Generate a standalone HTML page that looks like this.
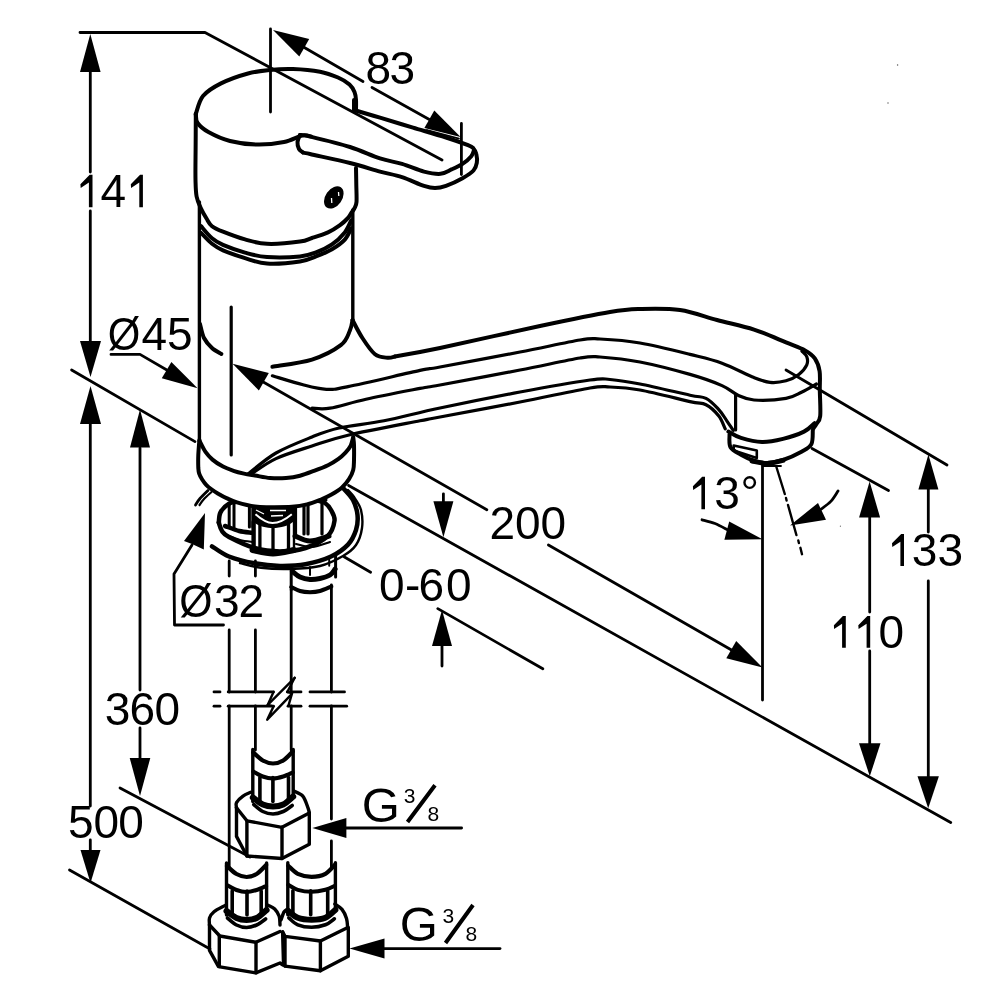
<!DOCTYPE html>
<html><head><meta charset="utf-8"><style>
html,body{margin:0;padding:0;background:#fff;}
svg{display:block;will-change:transform;}
text{font-family:"Liberation Sans",sans-serif;fill:#000;}
</style></head><body>
<svg width="1000" height="1000" viewBox="0 0 1000 1000">
<rect width="1000" height="1000" fill="#fff"/>
<g fill="none" stroke="#000" stroke-linecap="round" stroke-linejoin="round">
<path d="M80.0,32.5 L205.0,32.5 L442.0,160.0" stroke-width="2.8"/>
<path d="M90.3,72.0 L90.3,172.0" stroke-width="2.8"/>
<path d="M90.3,211.0 L90.3,341.0" stroke-width="2.8"/>
<path d="M71.6,370.0 L195.0,441.6" stroke-width="2.8"/>
<path d="M90.3,424.0 L90.3,806.0" stroke-width="2.8"/>
<path d="M90.3,840.0 L90.3,851.0" stroke-width="2.8"/>
<path d="M69.5,870.0 L210.0,949.0" stroke-width="2.8"/>
<path d="M140.0,448.0 L140.0,690.0" stroke-width="2.8"/>
<path d="M140.0,728.0 L140.0,758.0" stroke-width="2.8"/>
<path d="M120.0,788.0 L250.0,857.0" stroke-width="2.8"/>
<path d="M111.0,354.4 L140.0,354.4 L172.0,373.0" stroke-width="2.8"/>
<path d="M258.0,379.0 L486.8,509.7" stroke-width="2.8"/>
<path d="M548.4,545.0 L735.0,652.0" stroke-width="2.8"/>
<path d="M231.2,307.0 L231.2,455.0" stroke-width="3.2"/>
<path d="M270.5,29.0 L270.5,112.0" stroke-width="2.8"/>
<path d="M300.0,45.0 L363.0,81.5" stroke-width="2.8"/>
<path d="M372.0,87.5 L432.0,121.0" stroke-width="2.8"/>
<path d="M461.4,123.5 L461.4,174.5" stroke-width="2.8"/>
<path d="M192.0,545.0 L174.0,574.0 L174.5,625.0 L223.5,625.0" stroke-width="2.8"/>
<path d="M443.4,493.8 L443.4,502.0" stroke-width="2.8"/>
<path d="M442.0,646.0 L442.0,666.0" stroke-width="2.8"/>
<path d="M348.6,485.5 L950.7,822.5" stroke-width="2.8"/>
<path d="M437.8,608.6 L542.8,668.8" stroke-width="2.8"/>
<path d="M344.0,556.8 L370.6,572.2" stroke-width="2.8"/>
<path d="M762.5,463.5 L762.5,700.0" stroke-width="2.8"/>
<path d="M776.4,467.0 L784.8,494.0" stroke-width="2.4"/>
<path d="M786.0,498.0 L786.6,500.5" stroke-width="2.4"/>
<path d="M788.0,505.0 L796.4,535.0" stroke-width="2.4"/>
<path d="M798.3,540.5 L798.9,543.0" stroke-width="2.4"/>
<path d="M800.4,547.8 L802.0,554.2" stroke-width="2.4"/>
<path d="M702.0,519.8 C704.2,520.4 710.7,521.8 715.0,523.5 C719.3,525.2 725.8,528.9 728.0,530.0" stroke-width="2.8"/>
<path d="M838.0,491.0 C836.8,492.7 833.8,498.2 830.8,501.4 C827.8,504.6 821.8,508.6 820.0,510.0" stroke-width="2.8"/>
<path d="M812.0,448.5 L888.5,490.5" stroke-width="2.8"/>
<path d="M869.7,517.0 L869.7,612.0" stroke-width="2.8"/>
<path d="M869.7,651.0 L869.7,744.0" stroke-width="2.8"/>
<path d="M786.0,370.0 L947.0,465.0" stroke-width="2.8"/>
<path d="M928.3,489.0 L928.3,532.0" stroke-width="2.8"/>
<path d="M928.3,581.0 L928.3,777.0" stroke-width="2.8"/>
<path d="M346.0,828.0 L461.6,828.0" stroke-width="2.8"/>
<path d="M384.0,948.6 L500.0,948.6" stroke-width="2.8"/>
<path d="M214.0,691.9 L220.0,691.9" stroke-width="2.8"/>
<path d="M228.2,691.9 L273.5,691.9" stroke-width="2.8"/>
<path d="M287.3,691.9 L301.0,691.9" stroke-width="2.8"/>
<path d="M310.0,691.9 L344.5,691.9" stroke-width="2.8"/>
<path d="M214.0,706.2 L220.0,706.2" stroke-width="2.8"/>
<path d="M228.2,706.2 L273.5,706.2" stroke-width="2.8"/>
<path d="M288.0,706.2 L301.0,706.2" stroke-width="2.8"/>
<path d="M310.0,706.2 L346.7,706.2" stroke-width="2.8"/>
<path d="M273.5,691.9 L267.7,704.9 L273.5,706.4 L267.2,719.7 L291.0,694.8" stroke-width="2.4"/>
<path d="M267.7,704.9 L294.7,677.8" stroke-width="2.4"/>
<path d="M294.7,677.8 L287.3,692.0 L292.1,693.2 L288.4,705.9" stroke-width="2.4"/>
<path d="M195.8,114.0 C197.0,111.0 198.8,101.1 203.0,96.0 C207.2,90.9 213.5,87.2 221.0,83.4 C228.5,79.7 239.9,75.7 248.0,73.5 C256.1,71.3 262.1,70.8 269.6,70.0 C277.1,69.2 284.6,68.7 293.0,69.0 C301.4,69.3 312.5,70.3 320.0,71.7 C327.5,73.1 333.1,75.4 338.0,77.5 C342.9,79.6 346.8,82.1 349.5,84.5 C352.2,86.9 353.4,89.4 354.5,92.0 C355.6,94.6 355.8,97.0 356.0,100.0 C356.2,103.0 356.0,108.3 356.0,110.0" stroke-width="4.0"/>
<path d="M195.8,114.0 C196.1,115.5 195.5,120.0 197.6,123.0 C199.7,126.0 203.0,129.0 208.4,132.0 C213.8,135.0 221.9,138.9 230.0,141.0 C238.1,143.1 248.0,144.4 257.0,144.6 C266.0,144.8 276.5,143.5 284.0,142.0 C291.5,140.5 297.5,136.5 302.0,135.6 C306.5,134.7 309.5,136.3 311.0,136.5" stroke-width="4.0"/>
<path d="M195.8,114.0 C195.8,120.0 195.7,139.0 195.6,150.0 C195.5,161.0 195.3,172.2 195.5,180.0 C195.7,187.8 195.7,191.7 196.6,196.5 C197.5,201.3 199.3,204.9 201.0,208.6 C202.7,212.3 204.7,215.6 206.5,218.5 C208.3,221.4 209.2,224.0 212.0,226.2 C214.8,228.4 217.5,229.5 223.0,231.7 C228.5,233.9 237.7,237.4 245.0,239.4 C252.3,241.4 257.8,243.4 267.0,243.8 C276.2,244.2 292.5,242.6 300.0,241.6 C307.5,240.6 307.3,239.5 312.0,238.0 C316.7,236.5 323.3,234.5 328.0,232.4 C332.7,230.3 336.7,227.6 340.0,225.2 C343.3,222.8 346.1,220.0 348.0,218.0 C349.9,216.0 350.1,214.8 351.2,213.2 C352.3,211.6 353.5,210.3 354.4,208.4 C355.3,206.5 356.2,205.9 356.5,202.0 C356.8,198.1 356.4,190.7 356.3,185.0 C356.2,179.3 356.1,170.8 356.0,168.0" stroke-width="4.0"/>
<path d="M201.0,226.2 C202.8,228.2 208.3,235.2 212.0,238.3 C215.7,241.4 217.5,242.5 223.0,244.9 C228.5,247.3 237.7,250.6 245.0,252.6 C252.3,254.6 257.8,256.4 267.0,257.0 C276.2,257.6 291.8,257.2 300.0,256.4 C308.2,255.6 310.7,254.4 316.0,252.4 C321.3,250.4 327.2,247.7 332.0,244.4 C336.8,241.1 341.6,236.4 344.8,232.4 C348.0,228.4 350.1,222.4 351.2,220.4" stroke-width="4.0"/>
<path d="M201.0,232.8 C202.8,234.6 208.3,240.9 212.0,243.8 C215.7,246.7 217.5,248.0 223.0,250.4 C228.5,252.8 237.7,255.9 245.0,258.1 C252.3,260.3 257.8,263.0 267.0,263.6 C276.2,264.2 291.8,262.7 300.0,261.5 C308.2,260.3 310.7,258.4 316.0,256.4 C321.3,254.3 327.2,252.0 332.0,249.2 C336.8,246.4 341.6,243.1 344.8,239.6 C348.0,236.1 350.1,230.3 351.2,228.4" stroke-width="4.0"/>
<path d="M354.0,100.0 L354.0,110.0" stroke-width="4.0"/>
<path d="M354.0,110.0 C358.3,111.3 370.2,114.8 380.0,117.7 C389.8,120.6 402.0,124.3 413.0,127.6 C424.0,130.9 436.8,134.6 446.0,137.5 C455.2,140.4 463.4,143.4 468.0,145.2 C472.6,147.0 472.1,147.0 473.5,148.5 C474.9,150.0 475.8,151.6 476.3,154.0 C476.9,156.4 477.3,160.1 476.8,162.8 C476.3,165.6 475.9,167.9 473.5,170.5 C471.1,173.1 467.1,175.6 462.5,178.2 C457.9,180.8 450.6,184.2 446.0,185.9 C441.4,187.6 438.7,188.1 435.0,188.1 C431.3,188.1 429.5,187.7 424.0,185.9 C418.5,184.1 409.3,179.5 402.0,177.1 C394.7,174.7 388.7,173.9 380.0,171.6 C371.3,169.2 361.7,165.9 350.0,163.0 C338.3,160.1 317.8,155.8 310.0,154.0 C302.2,152.2 304.2,152.8 303.0,152.5" stroke-width="4.0"/>
<path d="M300.0,135.0 C301.7,135.2 301.7,134.5 310.0,136.5 C318.3,138.5 338.3,143.3 350.0,147.0 C361.7,150.7 371.3,155.6 380.0,158.4 C388.7,161.2 394.7,161.7 402.0,163.9 C409.3,166.1 417.6,169.9 424.0,171.6 C430.4,173.2 435.9,174.2 440.5,173.8 C445.1,173.4 447.8,171.1 451.5,169.4 C455.2,167.8 459.2,166.1 462.5,163.9 C465.8,161.7 469.4,158.5 471.3,156.2 C473.2,153.9 473.6,151.0 474.0,150.0" stroke-width="4.0"/>
<path d="M300.0,135.0 C299.6,136.2 297.7,139.7 297.5,142.0 C297.3,144.3 298.1,147.2 299.0,149.0 C299.9,150.8 302.3,151.9 303.0,152.5" stroke-width="4.0"/>
<path d="M427,130 L459,138.6" stroke-width="1.8"/>
<path d="M199.4,202 V441" stroke-width="3.4"/>
<path d="M352.8,210 V320" stroke-width="3.4"/>
<path d="M200.0,324.0 C200.7,326.3 202.0,334.0 204.0,338.0 C206.0,342.0 209.1,345.3 212.0,348.0 C214.9,350.7 219.8,353.0 221.4,354.0" stroke-width="4.0"/>
<path d="M272.4,366.8 C279.0,365.6 300.6,363.2 312.0,359.6 C323.4,356.0 334.5,350.0 340.8,345.2 C347.1,340.4 347.9,335.0 349.8,330.8 C351.8,326.6 352.1,321.8 352.5,320.0" stroke-width="4.0"/>
<path d="M352.5,320.0 C354.1,323.0 358.6,332.3 362.4,338.0 C366.1,343.7 370.8,350.9 375.0,354.2 C379.2,357.5 384.3,357.4 387.6,357.8 C390.9,358.2 393.8,356.7 395.0,356.5" stroke-width="4.0"/>
<path d="M395.0,356.5 C402.5,355.1 415.8,353.1 440.0,348.0 C464.2,342.9 511.7,332.0 540.0,326.0 C568.3,320.0 593.3,314.8 610.0,312.0 C626.7,309.2 628.3,309.3 640.0,309.0 C651.7,308.7 667.2,308.2 680.0,310.0 C692.8,311.8 704.7,316.7 717.0,320.0 C729.3,323.3 742.5,325.9 754.0,329.6 C765.5,333.3 777.5,338.9 786.0,342.4 C794.5,345.9 800.2,347.7 805.0,350.4 C809.8,353.1 812.4,354.9 814.8,358.4 C817.2,361.9 818.8,365.9 819.6,371.2 C820.4,376.5 819.7,382.5 819.8,390.0 C819.9,397.5 820.8,410.3 820.2,416.0 C819.6,421.7 817.6,421.9 816.4,424.0 C815.2,426.1 813.7,428.0 813.2,428.8" stroke-width="4.0"/>
<path d="M272.4,375.8 C277.5,377.3 294.0,382.6 303.0,384.8 C312.0,387.1 318.9,389.0 326.4,389.3 C333.9,389.6 332.4,389.8 348.0,386.6 C363.6,383.5 404.7,373.7 420.0,370.4 C435.3,367.1 423.3,370.1 440.0,367.0 C456.7,363.9 496.7,356.5 520.0,352.0 C543.3,347.5 566.7,342.2 580.0,340.0 C593.3,337.8 590.0,338.5 600.0,339.0 C610.0,339.5 625.0,340.4 640.0,343.0 C655.0,345.6 676.3,351.0 690.0,354.4 C703.7,357.8 711.3,359.3 722.0,363.2 C732.7,367.1 746.0,374.4 754.0,377.6 C762.0,380.8 764.7,381.9 770.0,382.4 C775.3,382.9 781.2,382.1 786.0,380.8 C790.8,379.5 795.3,377.1 798.8,374.4 C802.3,371.7 805.5,367.7 806.8,364.8 C808.1,361.9 807.6,359.1 806.8,356.8 C806.0,354.5 802.8,352.1 802.0,351.2" stroke-width="3.2"/>
<path d="M312.0,408.2 C315.0,408.2 321.0,409.7 330.0,408.2 C339.0,406.7 351.0,402.5 366.0,399.2 C381.0,395.9 407.7,390.8 420.0,388.4 C432.3,386.0 423.3,388.1 440.0,385.0 C456.7,381.9 496.7,374.5 520.0,370.0 C543.3,365.5 566.7,360.2 580.0,358.0 C593.3,355.8 590.0,356.3 600.0,357.0 C610.0,357.7 625.0,359.1 640.0,362.0 C655.0,364.9 676.3,370.5 690.0,374.4 C703.7,378.3 714.0,382.1 722.0,385.6 C730.0,389.1 732.7,392.8 738.0,395.2 C743.3,397.6 746.0,399.5 754.0,400.0 C762.0,400.5 778.0,399.7 786.0,398.4 C794.0,397.1 796.9,394.4 802.0,392.0 C807.1,389.6 814.0,385.3 816.4,384.0" stroke-width="3.2"/>
<path d="M248.5,473.6 C253.1,470.2 265.4,459.1 276.0,453.0 C286.6,446.9 301.5,441.2 312.0,437.0 C322.5,432.8 327.0,430.7 339.0,428.0 C351.0,425.3 367.2,424.1 384.0,420.8 C400.8,417.5 417.3,412.8 440.0,408.0 C462.7,403.2 495.0,396.7 520.0,392.0 C545.0,387.3 575.0,382.1 590.0,380.0 C605.0,377.9 601.7,378.8 610.0,379.5 C618.3,380.2 626.7,381.4 640.0,384.0 C653.3,386.6 679.0,392.8 690.0,395.2 C701.0,397.6 701.2,396.0 706.0,398.4 C710.8,400.8 715.3,405.9 718.8,409.6 C722.3,413.3 724.4,417.3 726.8,420.8 C729.2,424.3 732.1,428.8 733.2,430.4" stroke-width="3.2"/>
<path d="M251.0,474.2 C255.2,471.6 265.8,463.3 276.0,458.6 C286.2,453.9 300.0,449.9 312.0,446.0 C324.0,442.1 330.0,439.4 348.0,435.2 C366.0,431.0 404.7,423.8 420.0,420.8 C435.3,417.8 423.3,420.1 440.0,417.0 C456.7,413.9 495.0,406.8 520.0,402.0 C545.0,397.2 575.0,390.5 590.0,388.0 C605.0,385.5 601.7,386.7 610.0,387.0 C618.3,387.3 626.7,387.6 640.0,390.0 C653.3,392.4 679.0,399.1 690.0,401.6 C701.0,404.1 701.2,402.4 706.0,404.8 C710.8,407.2 715.6,412.0 718.8,416.0 C722.0,420.0 724.1,426.7 725.2,428.8" stroke-width="3.2"/>
<path d="M735.6,395 V430" stroke-width="3.2"/>
<path d="M728.4,431.6 C730.5,432.7 735.4,436.2 741.0,437.9 C746.6,439.6 755.0,441.8 762.0,442.0 C769.0,442.2 776.0,440.6 783.0,438.9 C790.0,437.2 798.8,434.2 804.0,431.6 C809.2,429.0 812.8,424.6 814.5,423.2" stroke-width="4.0"/>
<path d="M729.5,434.7 C729.7,436.8 728.6,444.0 730.5,447.3 C732.4,450.6 737.0,452.4 741.0,454.7 C745.0,457.0 750.3,459.6 754.7,461.0 C759.1,462.4 762.6,463.2 767.3,463.0 C772.0,462.8 777.2,461.9 783.0,460.0 C788.8,458.1 797.3,454.1 802.0,451.5 C806.7,448.9 809.6,447.7 811.4,444.2 C813.2,440.7 812.6,432.8 812.8,430.5" stroke-width="4.0"/>
<path d="M733.7,445.5 L756.8,450.5 L756.8,458 L733.7,450.5Z" stroke-width="2.6"/>
<path d="M752.0,461.0 C754.5,461.4 762.1,463.6 767.3,463.5 C772.5,463.4 780.4,460.9 783.0,460.4" stroke-width="5"/>
<path d="M763.0,466.0 L781.0,466.0" stroke-width="1.8"/>
<path d="M195.5,505.0 C196.2,503.9 197.9,500.9 200.0,498.5 C202.1,496.1 206.7,491.8 208.0,490.5" stroke-width="2.8"/>
<path d="M199.5,505.0 C200.2,504.0 202.0,501.2 204.0,499.0 C206.0,496.8 210.2,493.2 211.5,492.0" stroke-width="2.2"/>
<path d="M212.0,546.3 C214.8,548.0 221.9,553.7 229.0,556.5 C236.1,559.3 246.0,561.7 254.5,563.3 C263.0,564.9 271.5,565.8 280.0,565.9 C288.5,566.0 297.0,565.8 305.5,564.2 C314.0,562.6 323.9,559.8 331.0,556.5 C338.1,553.2 343.8,549.0 348.0,544.6 C352.2,540.2 354.4,534.9 356.0,530.0 C357.6,525.1 358.0,520.0 357.5,515.0 C357.0,510.0 355.2,504.3 353.0,500.0 C350.8,495.7 345.5,490.8 344.0,489.0" stroke-width="4.5"/>
<path d="M240.0,563.0 C243.5,563.8 252.7,566.8 261.0,567.8 C269.3,568.8 280.2,569.3 290.0,569.0 C299.8,568.7 311.2,568.2 320.0,566.0 C328.8,563.8 337.0,559.5 343.0,556.0 C349.0,552.5 352.8,549.7 356.0,545.0 C359.2,540.3 361.2,533.8 362.0,528.0 C362.8,522.2 362.3,515.2 361.0,510.0 C359.7,504.8 356.2,500.3 354.0,497.0 C351.8,493.7 349.0,491.2 348.0,490.0" stroke-width="2.4"/>
<path d="M218.8,522.5 C219.1,520.8 218.8,515.4 220.5,512.3 C222.2,509.2 225.9,505.6 229.0,503.8 C232.1,502.0 237.5,501.7 239.2,501.3" stroke-width="4.5"/>
<path d="M218.8,522.5 C219.3,523.9 220.3,528.6 222.0,531.0 C223.7,533.4 223.6,534.2 229.0,537.0 C234.4,539.8 246.0,545.6 254.5,548.0 C263.0,550.4 271.5,551.4 280.0,551.4 C288.5,551.4 297.6,550.6 305.5,548.0 C313.4,545.4 322.9,540.5 327.7,536.0 C332.5,531.5 333.9,525.1 334.5,520.8 C335.1,516.5 332.6,513.0 331.0,510.0 C329.4,507.0 327.3,504.6 325.0,503.0 C322.7,501.4 318.7,500.8 317.4,500.4" stroke-width="4.5"/>
<path d="M229.2,503 V527" stroke-width="3"/>
<path d="M234,503 V527" stroke-width="3"/>
<path d="M249.4,503 V527" stroke-width="3"/>
<path d="M252.8,503 V527" stroke-width="3"/>
<path d="M225.0,526.0 C227.4,526.8 234.7,529.9 239.2,531.0 C243.7,532.1 249.9,532.4 252.0,532.7" stroke-width="4.5"/>
<path d="M226.0,535.0 C228.3,535.8 235.5,538.8 240.0,540.0 C244.5,541.2 250.8,541.7 253.0,542.0" stroke-width="2.2"/>
<path d="M253.6,522 V549" stroke-width="4.4"/>
<path d="M259.9,522 V549" stroke-width="3.3"/>
<path d="M273,522 V549" stroke-width="3.3"/>
<path d="M288.5,522 V549" stroke-width="3.3"/>
<path d="M294,522 V549" stroke-width="2.4"/>
<path d="M252.5,550.0 C255.9,550.6 266.1,553.5 273.0,553.5 C279.9,553.5 290.5,550.6 294.0,550.0" stroke-width="6"/>
<path d="M295.5,503 V534" stroke-width="3.2"/>
<path d="M304,503 V534" stroke-width="3.2"/>
<path d="M308,503 V534" stroke-width="3.2"/>
<path d="M322,503 V534" stroke-width="3.2"/>
<path d="M295.0,536.0 C297.5,536.8 304.3,541.0 310.0,541.0 C315.7,541.0 325.8,536.8 329.0,536.0" stroke-width="5"/>
<path d="M296.0,544.0 C298.7,544.5 306.3,547.3 312.0,547.0 C317.7,546.7 327.0,542.8 330.0,542.0" stroke-width="2.2"/>
<path d="M296.0,505.0 C298.3,504.5 305.0,502.8 310.0,502.0 C315.0,501.2 323.3,500.3 326.0,500.0" stroke-width="3"/>
<path d="M291.2,569.8 V589.8" stroke-width="3"/>
<path d="M335.6,554.6 V577" stroke-width="3"/>
<path d="M291.2,587.0 C292.7,587.7 296.9,590.1 300.0,591.0 C303.1,591.9 306.7,592.2 310.0,592.2 C313.3,592.2 316.4,592.0 320.0,591.0 C323.6,590.0 329.5,587.2 331.4,586.5" stroke-width="4"/>
<path d="M292.5,571.5 C293.8,572.4 297.1,575.7 300.0,577.0 C302.9,578.3 306.7,579.2 310.0,579.5 C313.3,579.8 316.7,579.2 320.0,578.5 C323.3,577.8 327.5,576.6 330.0,575.0 C332.5,573.4 334.3,570.0 335.2,569.0" stroke-width="5"/>
<path d="M310,567 V575" stroke-width="2"/>
<path d="M329.2,558.6 V565.8" stroke-width="2"/>
<path d="M229.2,561 V576 M229.2,630 V692 M229.2,706 V867" stroke-width="2.8"/>
<path d="M255.4,561 V576 M255.4,630 V692 M255.4,706 V750" stroke-width="2.8"/>
<path d="M291.2,589.8 V692 M291.2,706 V750" stroke-width="2.8"/>
<path d="M331.4,585 V692 M331.4,706 V819 M331.4,841 V868" stroke-width="2.8"/>
<path d="M252.8,749.5 V801.5" stroke-width="3.4"/>
<path d="M293.2,749.5 V797.5" stroke-width="3.4"/>
<path d="M253.3,752.5 C254.9,753.8 259.5,758.7 262.8,760.5 C266.1,762.3 269.6,763.5 273.0,763.5 C276.4,763.5 279.9,762.5 283.2,760.5 C286.5,758.5 291.1,753.0 292.7,751.5" stroke-width="4.2"/>
<path d="M253.3,771.5 C254.9,772.3 259.5,775.3 262.8,776.5 C266.1,777.7 269.6,778.5 273.0,778.5 C276.4,778.5 279.9,777.5 283.2,776.5 C286.5,775.5 291.1,773.2 292.7,772.5" stroke-width="4"/>
<path d="M259.9,777.5 V801.5" stroke-width="3.6"/>
<path d="M272.9,777.5 V801.5" stroke-width="3.6"/>
<path d="M288.5,777.5 V801.5" stroke-width="3.6"/>
<path d="M252.8,797.5 C254.5,798.7 259.4,803.0 262.8,804.5 C266.2,806.0 269.6,806.5 273.0,806.5 C276.4,806.5 279.8,806.2 283.2,804.5 C286.6,802.8 291.5,797.8 293.2,796.5" stroke-width="6"/>
<path d="M253.8,804.5 C255.3,805.7 259.6,809.9 262.8,811.5 C266.0,813.1 269.6,814.0 273.0,814.0 C276.4,814.0 280.0,812.9 283.2,811.5 C286.4,810.1 290.7,806.5 292.2,805.5" stroke-width="3.6"/>
<path d="M236.5,807.8 C236.5,806.9 235.4,804.5 236.5,802.6 C237.6,800.7 240.6,797.8 243.0,796.1 C245.4,794.4 249.5,792.9 250.8,792.2" stroke-width="3.4"/>
<path d="M293.7,790.9 C295.2,791.8 300.4,793.3 302.8,796.1 C305.2,798.9 306.9,805.0 308.0,807.8 C309.1,810.6 309.1,812.1 309.3,813.0" stroke-width="3.4"/>
<path d="M236.5,807.8 L246.9,820.8 L282.0,827.3 L309.3,813.0" stroke-width="3.4"/>
<path d="M236.5,807.8 L236.5,836.4 L246.9,856.0 L282.0,858.5 L309.3,844.2 L309.3,813.0" stroke-width="3.4"/>
<path d="M246.9,820.8 V856 M282,827.3 V858.5" stroke-width="3.4"/>
<path d="M226.5,863.0 V915.0" stroke-width="3.4"/>
<path d="M266.6,863.0 V911.0" stroke-width="3.4"/>
<path d="M227.0,866.0 C228.6,867.3 233.2,872.2 236.5,874.0 C239.8,875.8 243.2,877.0 246.6,877.0 C249.9,877.0 253.3,876.0 256.6,874.0 C259.9,872.0 264.5,866.5 266.1,865.0" stroke-width="4.2"/>
<path d="M227.0,885.0 C228.6,885.8 233.2,888.8 236.5,890.0 C239.8,891.2 243.2,892.0 246.6,892.0 C249.9,892.0 253.3,891.0 256.6,890.0 C259.9,889.0 264.5,886.7 266.1,886.0" stroke-width="4"/>
<path d="M232.2,891.0 V915.0" stroke-width="3.6"/>
<path d="M247.0,891.0 V915.0" stroke-width="3.6"/>
<path d="M261.2,891.0 V915.0" stroke-width="3.6"/>
<path d="M226.5,911.0 C228.2,912.2 233.2,916.5 236.5,918.0 C239.8,919.5 243.2,920.0 246.6,920.0 C249.9,920.0 253.3,919.7 256.6,918.0 C259.9,916.3 264.9,911.3 266.6,910.0" stroke-width="6"/>
<path d="M227.5,918.0 C229.0,919.2 233.3,923.4 236.5,925.0 C239.7,926.6 243.2,927.5 246.6,927.5 C249.9,927.5 253.4,926.4 256.6,925.0 C259.8,923.6 264.1,920.0 265.6,919.0" stroke-width="3.6"/>
<path d="M209.5,925.0 C209.5,923.8 208.8,920.2 209.5,918.0 C210.2,915.8 211.4,913.8 214.0,911.7 C216.6,909.6 223.3,906.5 225.2,905.4" stroke-width="3.4"/>
<path d="M268.4,905.4 C269.4,906.0 272.9,907.2 274.7,909.0 C276.5,910.8 278.3,913.5 279.2,916.2 C280.1,918.9 279.9,923.5 280.0,925.0" stroke-width="3.4"/>
<path d="M209.5,925.0 L219.8,936.0 L255.8,942.3 L280.0,931.5" stroke-width="3.4"/>
<path d="M209.5,925.0 L209.5,950.4 L218.5,966.6 L255.8,972.9 L280.0,963.0 L283.0,965.0" stroke-width="3.4"/>
<path d="M219.3,936 V966.6 M256,942.3 V972.9" stroke-width="3.4"/>
<path d="M287.8,862.8 V914.8" stroke-width="3.4"/>
<path d="M335.4,862.8 V910.8" stroke-width="3.4"/>
<path d="M288.3,865.8 C289.9,867.1 293.9,872.0 297.8,873.8 C301.7,875.6 307.0,876.8 311.6,876.8 C316.2,876.8 321.5,875.8 325.4,873.8 C329.3,871.8 333.3,866.3 334.9,864.8" stroke-width="4.2"/>
<path d="M288.3,884.8 C289.9,885.6 293.9,888.6 297.8,889.8 C301.7,891.0 307.0,891.8 311.6,891.8 C316.2,891.8 321.5,890.8 325.4,889.8 C329.3,888.8 333.3,886.5 334.9,885.8" stroke-width="4"/>
<path d="M292.9,890.8 V914.8" stroke-width="3.6"/>
<path d="M310.7,890.8 V914.8" stroke-width="3.6"/>
<path d="M327.7,890.8 V914.8" stroke-width="3.6"/>
<path d="M287.8,910.8 C289.5,912.0 293.8,916.3 297.8,917.8 C301.8,919.3 307.0,919.8 311.6,919.8 C316.2,919.8 321.4,919.5 325.4,917.8 C329.4,916.1 333.7,911.1 335.4,909.8" stroke-width="6"/>
<path d="M288.8,917.8 C290.3,919.0 294.0,923.2 297.8,924.8 C301.6,926.4 307.0,927.3 311.6,927.3 C316.2,927.3 321.6,926.2 325.4,924.8 C329.2,923.4 332.9,919.8 334.4,918.8" stroke-width="3.6"/>
<path d="M281.0,920.0 C281.5,918.7 282.9,913.8 284.0,912.0 C285.1,910.2 287.2,909.5 287.8,909.0" stroke-width="3.4"/>
<path d="M334.8,904.0 C336.0,904.9 340.1,907.0 342.0,909.4 C343.9,911.8 345.6,915.5 346.5,918.4 C347.4,921.3 347.4,925.6 347.6,927.0" stroke-width="3.4"/>
<path d="M282.6,931.9 L285.0,936.4 L320.4,941.0 L347.8,927.4" stroke-width="3.4"/>
<path d="M282.6,931.9 L283.5,963.0 L285.0,966.1 L320.4,970.8 L348.3,956.2 L348.3,927.4" stroke-width="3.4"/>
<path d="M285,936.4 V966.1 M320.4,941 V970.8" stroke-width="3.4"/>
<path d="M199.4,440.0 C199.2,442.5 198.5,450.3 198.3,455.0 C198.1,459.7 198.2,464.9 198.3,468.0 C198.5,471.1 198.6,471.7 199.2,473.6 C199.8,475.5 200.8,477.3 202.0,479.2 C203.2,481.1 204.7,483.2 206.2,484.8 C207.7,486.4 209.2,487.6 211.1,489.0 C213.0,490.4 214.8,491.7 217.4,493.2 C220.0,494.7 223.2,496.6 226.5,498.1 C229.8,499.6 232.2,500.9 237.0,502.3 C241.8,503.7 249.5,505.7 255.0,506.5 C260.5,507.3 263.8,507.1 270.0,507.2 C276.2,507.2 285.8,507.3 292.0,506.8 C298.2,506.3 302.2,505.6 307.0,504.4 C311.8,503.2 316.9,501.1 321.0,499.5 C325.1,497.9 328.0,496.6 331.5,494.6 C335.0,492.6 339.1,490.2 342.0,487.6 C344.9,485.0 347.1,482.1 349.0,479.2 C350.9,476.3 352.4,473.3 353.2,470.1 C354.0,466.9 353.9,464.2 354.0,460.0 C354.1,455.8 354.1,448.8 354.0,445.0 C353.9,441.2 353.3,438.3 353.2,437.0 L353.0,438.0 C352.6,439.4 351.6,443.9 350.4,446.3 C349.1,448.7 347.5,450.5 345.5,452.6 C343.5,454.7 341.4,456.8 338.5,458.9 C335.6,461.0 332.1,463.2 328.0,465.2 C323.9,467.2 318.7,469.1 314.0,470.8 C309.3,472.6 304.7,474.5 300.0,475.7 C295.3,476.9 291.0,477.6 286.0,478.0 C281.0,478.4 275.2,478.4 270.0,478.0 C264.8,477.6 259.3,476.2 255.0,475.5 C250.7,474.8 247.6,474.4 244.0,473.6 C240.4,472.8 237.0,472.0 233.5,470.8 C230.0,469.6 226.5,468.5 223.0,466.6 C219.5,464.7 215.4,462.1 212.5,459.6 C209.6,457.2 207.7,455.0 205.5,451.9 C203.3,448.8 200.6,442.8 199.6,441.0Z" stroke-width="0" fill="#fff" stroke="none"/>
<path d="M199.4,440.0 C199.2,442.5 198.5,450.3 198.3,455.0 C198.1,459.7 198.2,464.9 198.3,468.0 C198.5,471.1 198.6,471.7 199.2,473.6 C199.8,475.5 200.8,477.3 202.0,479.2 C203.2,481.1 204.7,483.2 206.2,484.8 C207.7,486.4 209.2,487.6 211.1,489.0 C213.0,490.4 214.8,491.7 217.4,493.2 C220.0,494.7 223.2,496.6 226.5,498.1 C229.8,499.6 232.2,500.9 237.0,502.3 C241.8,503.7 249.5,505.7 255.0,506.5 C260.5,507.3 263.8,507.1 270.0,507.2 C276.2,507.2 285.8,507.3 292.0,506.8 C298.2,506.3 302.2,505.6 307.0,504.4 C311.8,503.2 316.9,501.1 321.0,499.5 C325.1,497.9 328.0,496.6 331.5,494.6 C335.0,492.6 339.1,490.2 342.0,487.6 C344.9,485.0 347.1,482.1 349.0,479.2 C350.9,476.3 352.4,473.3 353.2,470.1 C354.0,466.9 353.9,464.2 354.0,460.0 C354.1,455.8 354.1,448.8 354.0,445.0 C353.9,441.2 353.3,438.3 353.2,437.0" stroke-width="4.0"/>
<path d="M199.6,441.0 C200.6,442.8 203.3,448.8 205.5,451.9 C207.7,455.0 209.6,457.2 212.5,459.6 C215.4,462.1 219.5,464.7 223.0,466.6 C226.5,468.5 230.0,469.6 233.5,470.8 C237.0,472.0 240.4,472.8 244.0,473.6 C247.6,474.4 250.7,474.8 255.0,475.5 C259.3,476.2 264.8,477.6 270.0,478.0 C275.2,478.4 281.0,478.4 286.0,478.0 C291.0,477.6 295.3,476.9 300.0,475.7 C304.7,474.5 309.3,472.6 314.0,470.8 C318.7,469.1 323.9,467.2 328.0,465.2 C332.1,463.2 335.6,461.0 338.5,458.9 C341.4,456.8 343.5,454.7 345.5,452.6 C347.5,450.5 349.1,448.7 350.4,446.3 C351.6,443.9 352.6,439.4 353.0,438.0" stroke-width="4.0"/>
</g>
<g fill="#000" stroke="none">
<polygon points="90.3,34.0 100.6,72.0 80.0,72.0"/>
<polygon points="90.5,377.0 80.0,341.0 101.0,341.0"/>
<polygon points="90.5,386.0 101.0,424.0 80.0,424.0"/>
<polygon points="90.5,883.0 80.5,850.0 100.5,850.0"/>
<polygon points="140.0,409.6 150.0,447.6 130.0,447.6"/>
<polygon points="140.0,796.0 129.7,758.0 150.3,758.0"/>
<polygon points="197.6,388.3 161.8,378.2 171.4,361.9"/>
<polygon points="232.6,363.8 268.8,373.0 258.9,390.4"/>
<polygon points="762.5,667.5 726.3,658.3 736.2,640.9"/>
<polygon points="273.0,30.0 309.2,39.1 299.3,56.5"/>
<polygon points="460.6,137.0 424.4,127.9 434.3,110.5"/>
<polygon points="443.4,537.2 433.4,501.2 453.4,501.2"/>
<polygon points="442.0,610.0 452.0,646.0 432.0,646.0"/>
<polygon points="869.6,481.5 880.1,517.5 859.1,517.5"/>
<polygon points="869.8,776.3 859.0,743.3 880.5,743.3"/>
<polygon points="928.4,454.5 938.4,489.5 918.4,489.5"/>
<polygon points="928.2,808.2 917.5,776.2 938.9,776.2"/>
<polygon points="312.4,828.0 346.4,818.0 346.4,838.0"/>
<polygon points="349.5,948.6 384.5,938.6 384.5,958.6"/>
<polygon points="762.5,539.2 729.2,521.4 724.4,539.8"/>
<polygon points="790,525.4 818,503 826,519.8"/>
<polygon points="205,513 184,541 192,544 203.8,549.5"/>
<polygon points="89.7,174.8 92.5,174.8 92.5,207.2 88.9,207.2 88.9,182.6 80.7,187.9 80.4,184.3"/>
<polygon points="140.1,174.8 142.9,174.8 142.9,207.2 139.3,207.2 139.3,182.6 131.1,187.9 130.8,184.3"/>
<polygon points="842.9,616.1 845.8,616.1 845.8,647.8 842.1,647.8 842.1,623.7 834.1,628.9 833.9,625.3"/>
<polygon points="867.4,616.1 870.2,616.1 870.2,647.8 866.6,647.8 866.6,623.7 858.6,628.9 858.3,625.3"/>
<polygon points="901.2,534.0 904.0,534.0 904.0,566.0 900.4,566.0 900.4,541.7 892.3,546.9 892.0,543.3"/>
<polygon points="702.2,476.8 705.0,476.8 705.0,509.3 701.4,509.3 701.4,484.6 693.2,489.9 692.9,486.2"/>
</g>

<g font-size="46">
<text x="100.5" y="207.25">4</text>
<text x="141.5 167" y="349.5">45</text>
<text transform="translate(107.7,349.5) scale(0.91,1)">Ø</text>
<text x="104.8 129.5 154.5" y="724.5">360</text>
<text x="67.9 93.6 118.3" y="837.8">500</text>
<text x="214 238.5" y="617">32</text>
<text transform="translate(179.2,617) scale(0.93,1)">Ø</text>
<text x="379 405 418.5 446" y="601">0-60</text>
<text x="489.5 515 540.5" y="538.5">200</text>
<text x="365.6 389.4" y="83.5">83</text>
<text x="714.2 740.4" y="509.4">3°</text>
<text x="878.5" y="647.8">0</text>
<text x="911.8 937.4" y="566.2">33</text>
</g>
<g font-size="49">
<text x="361.7" y="821.5">G</text>
<text x="399.7" y="941.3">G</text>
</g>
<g font-size="21">
<text x="403.7" y="803.3">3</text>
<text x="427.5" y="821.3">8</text>
<text x="442.6" y="923">3</text>
<text x="465.5" y="941">8</text>
</g>
<path d="M407.5,822 L435,785.2 M445.5,943 L473,905" stroke="#000" stroke-width="4"/>

<ellipse cx="333.8" cy="197.4" rx="8.3" ry="12.3" transform="rotate(35 333.8 197.4)" fill="#000"/>
<path d="M331.5,198 L331.8,203 M338.5,192 L338.8,196" stroke="#fff" stroke-width="1.3" fill="none"/>
<path d="M252,507 L295,507 L295,520 C290,526 280,528 273,528 C266,528 256,526 252,520 Z" fill="#000"/>
<path d="M255.5,514.3 C262,520 268,523 272.5,523.1 C278,523 285,520 291.8,514.3" stroke="#fff" stroke-width="2" fill="none"/>
<path d="M256,510 L264,514 M270,510.5 L286,510.5 M271,516 L283,515.5" stroke="#fff" stroke-width="1.3" fill="none"/>
<circle cx="897.6" cy="65" r="0.7" fill="#555"/><circle cx="888" cy="103" r="0.7" fill="#555"/><circle cx="840.4" cy="526.2" r="0.6" fill="#666"/>
</svg>
</body></html>
